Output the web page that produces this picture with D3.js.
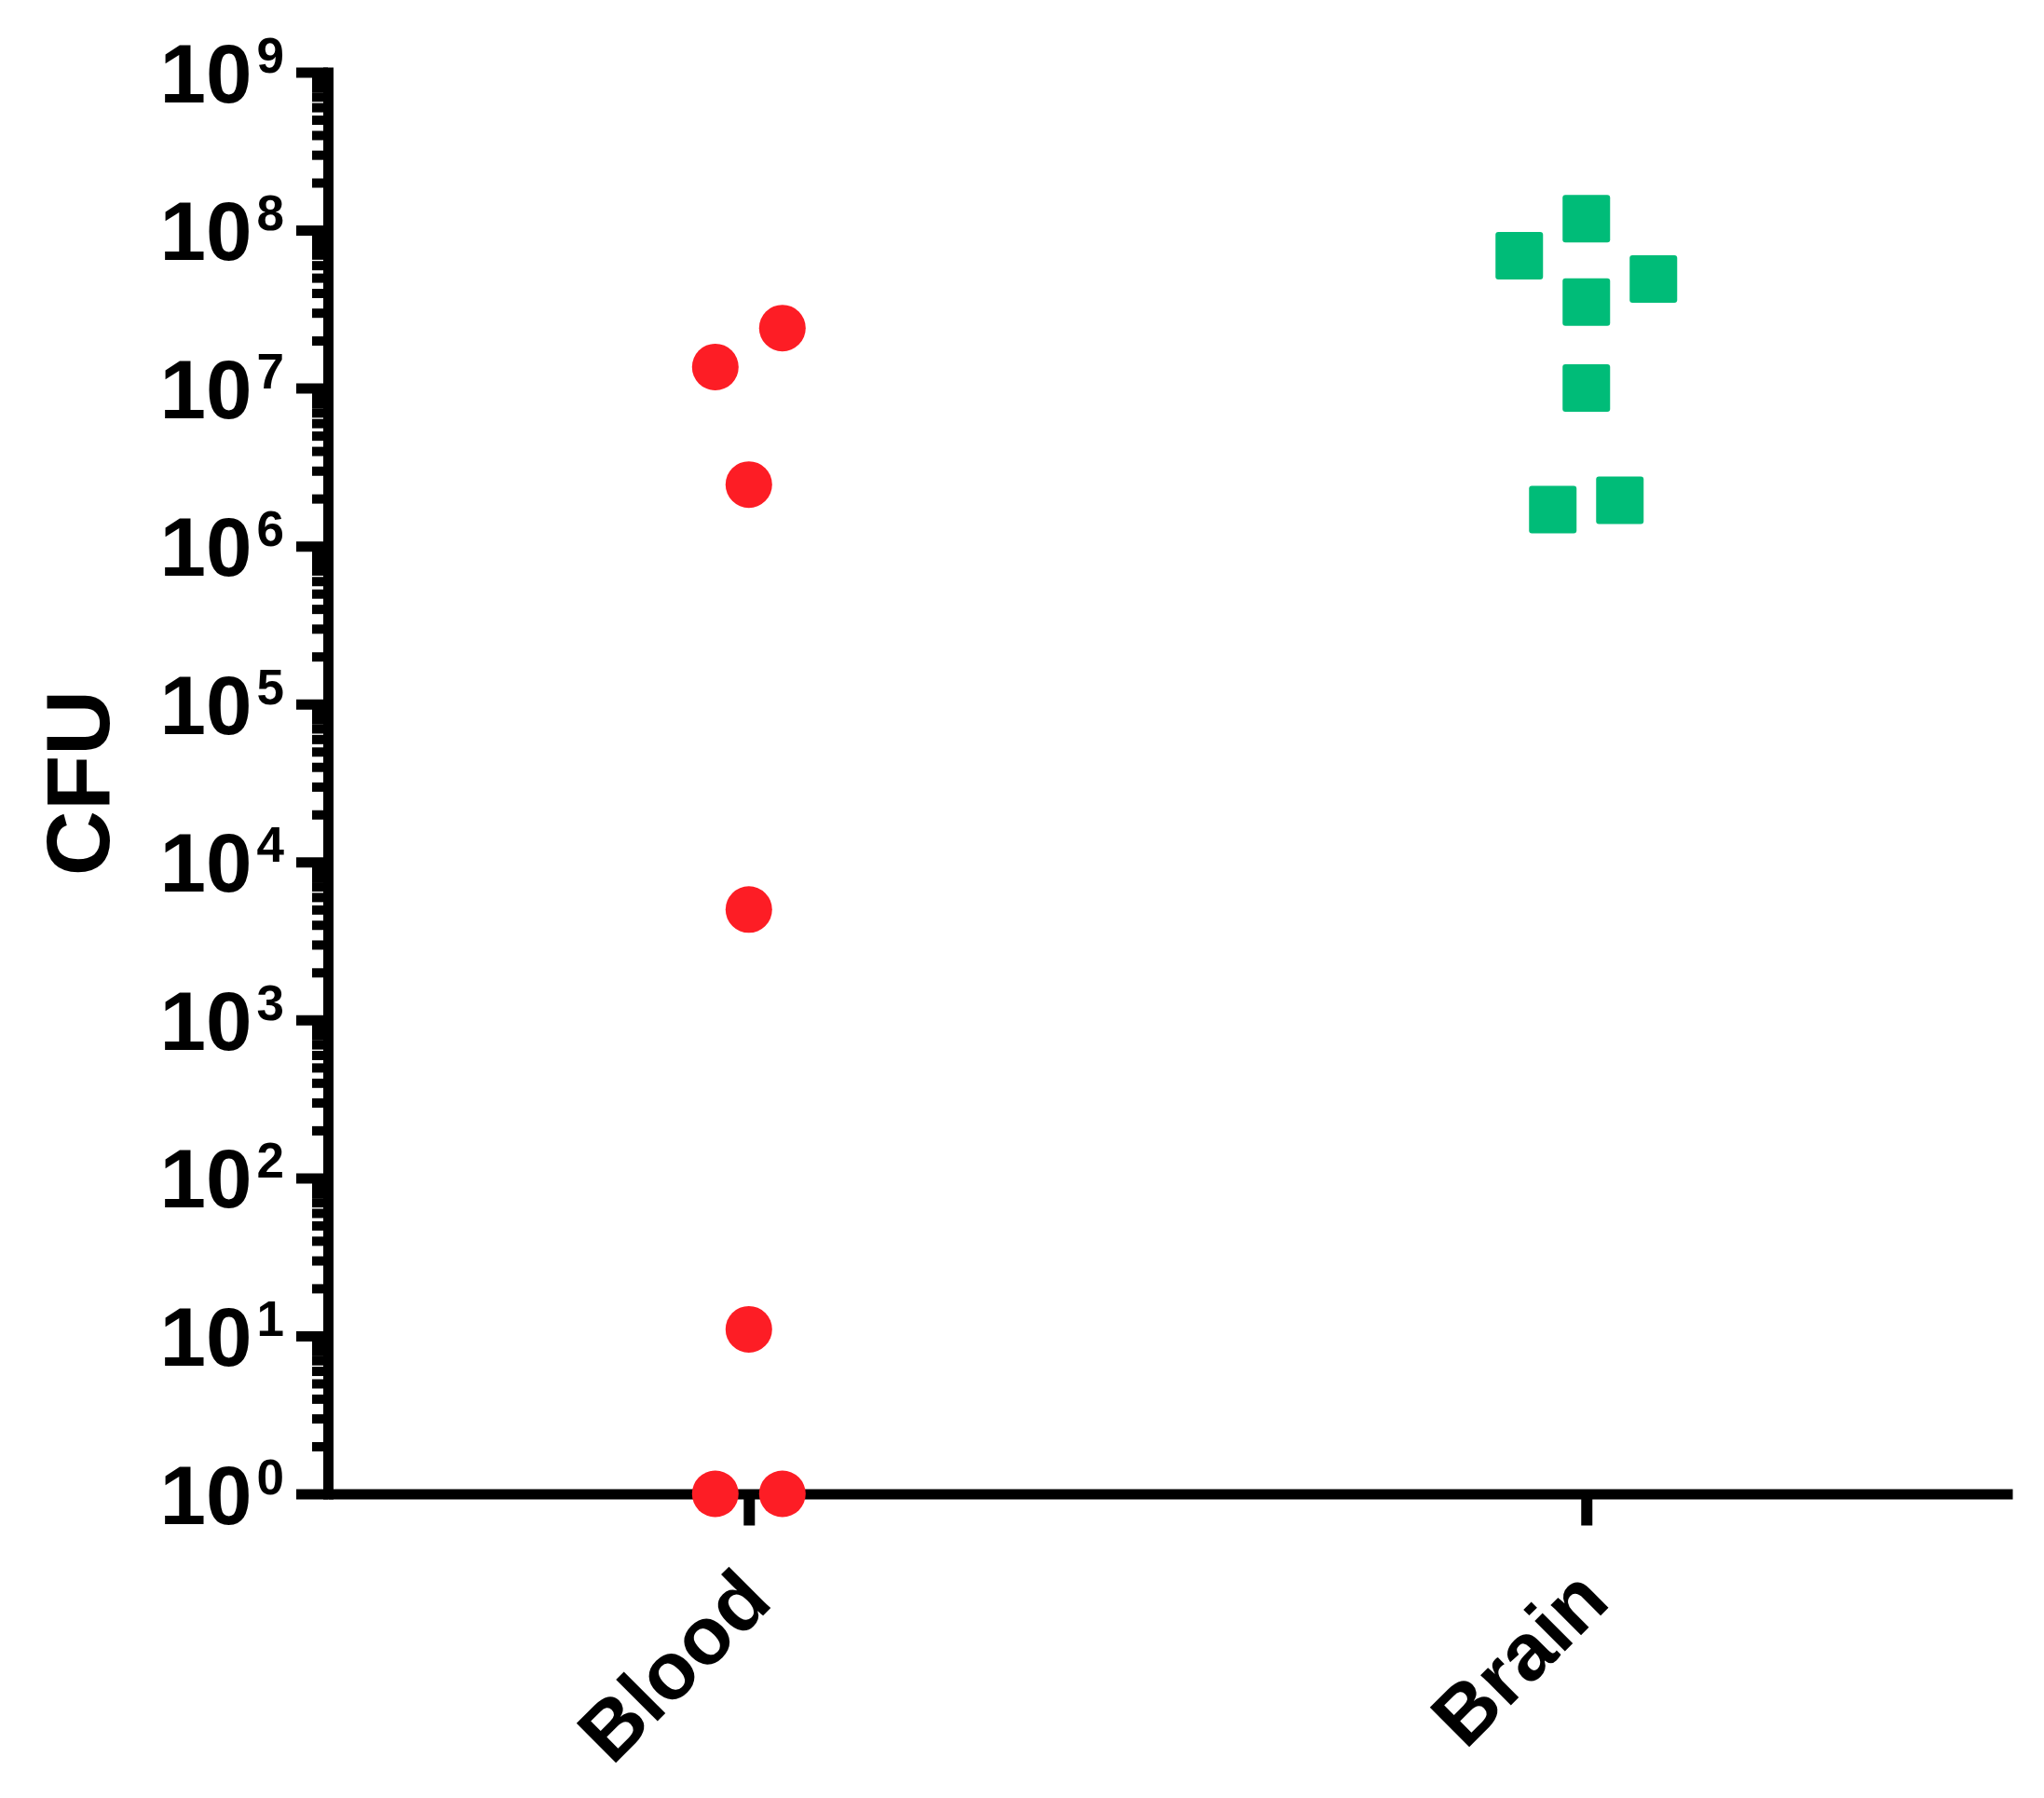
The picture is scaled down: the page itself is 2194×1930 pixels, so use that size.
<!DOCTYPE html>
<html>
<head>
<meta charset="utf-8">
<script src="https://cdn.jsdelivr.net/npm/d3@7"></script>
<style>
  body { margin: 0; background: #ffffff; }
  svg { display: block; }
  text { font-family: Arial, "Liberation Sans", sans-serif; font-weight: bold; fill: #000000; }
</style>
</head>
<body>
<div id="chart"></div>
<script>
// Data
var categories = ['Blood', 'Brain'];
var bloodValues = [2.4e7, 1.36e7, 2.45e6, 5e3, 11, 1, 1];
var bloodJitter = [1, -1, 0, 0, 0, -1, 1]; // column slot of each point
var brainValues = [1.18e8, 6.9e7, 4.9e7, 3.5e7, 1e7, 1.7e6, 1.95e6];
var brainJitter = [0, -2, 2, 0, 0, -1, 1];
var yExponents = [0, 1, 2, 3, 4, 5, 6, 7, 8, 9];
var yLabel = 'CFU';

var width = 2194, height = 1930;

var svg = d3.select('#chart').append('svg')
    .attr('width', width)
    .attr('height', height);

// Settings
var axis_x = 352,      // y axis line position
    axis_y = 1603.5,   // x axis line position
    top_y = 77.5,      // 10^9
    right_x = 2160,    // end of x axis
    line_w = 11,       // axis line thickness
    slot = 36;         // horizontal spacing between scattered symbols

var y = d3.scaleLog()
    .domain([1, 1e9])
    .range([axis_y, top_y]);

var x = d3.scalePoint()
    .domain(categories)
    .range([axis_x, right_x])
    .padding(0.5056)
    .align(0.497);

// Minor ticks 2..9 inside each decade
var minorTicks = [];
yExponents.slice(0, -1).forEach(function(e) {
    for (var m = 2; m <= 9; m++) minorTicks.push(m * Math.pow(10, e));
});

var minorAxis = svg.append('g')
    .attr('transform', 'translate(' + axis_x + ',0)')
    .call(d3.axisLeft(y).tickValues(minorTicks).tickSize(17).tickSizeOuter(0).tickFormat(''));
minorAxis.select('.domain').remove();
minorAxis.selectAll('.tick line')
    .attr('stroke', '#000').attr('stroke-width', 10);

var majorAxis = svg.append('g')
    .attr('transform', 'translate(' + axis_x + ',0)')
    .call(d3.axisLeft(y)
        .tickValues(yExponents.map(function(e) { return Math.pow(10, e); }))
        .tickSize(34).tickSizeOuter(0).tickFormat(''));
majorAxis.select('.domain')
    .attr('stroke', '#000').attr('stroke-width', line_w)
    .attr('stroke-linecap', 'square');
majorAxis.selectAll('.tick line')
    .attr('stroke', '#000').attr('stroke-width', line_w);

// Tick labels as 10 with a superscript exponent
var labels = majorAxis.selectAll('.tick')
    .append('text')
    .attr('x', -47)
    .attr('y', 31.5)
    .attr('text-anchor', 'end')
    .style('font-size', '89px');
labels.append('tspan').text('10');
labels.append('tspan')
    .attr('dx', 5)
    .attr('dy', -32)
    .style('font-size', '53px')
    .text(function(d) { return Math.round(Math.log10(d)); });

// X axis
var xAxis = svg.append('g')
    .attr('transform', 'translate(0,' + axis_y + ')')
    .call(d3.axisBottom(x).tickSize(34).tickSizeOuter(0).tickFormat(''));
xAxis.select('.domain')
    .attr('stroke', '#000').attr('stroke-width', line_w);
xAxis.selectAll('.tick line')
    .attr('stroke', '#000').attr('stroke-width', 12);
xAxis.selectAll('.tick')
    .append('text')
    .attr('transform', 'translate(27,' + (1722 - axis_y) + ') rotate(-45)')
    .attr('text-anchor', 'end')
    .style('font-size', '87px')
    .text(function(d) { return d; });

// Y axis title
svg.append('text')
    .attr('transform', 'translate(117,' + ((axis_y + top_y) / 2) + ') rotate(-90)')
    .attr('text-anchor', 'middle')
    .style('font-size', '97px')
    .text(yLabel);

// Blood: red circles
svg.append('g').selectAll('circle')
    .data(bloodValues)
    .enter().append('circle')
    .attr('cx', function(d, i) { return x('Blood') + bloodJitter[i] * slot; })
    .attr('cy', function(d) { return y(d); })
    .attr('r', 25)
    .attr('fill', '#fd1d25');

// Brain: green squares
var side = 51;
svg.append('g').selectAll('rect')
    .data(brainValues)
    .enter().append('rect')
    .attr('x', function(d, i) { return x('Brain') + brainJitter[i] * slot - side / 2; })
    .attr('y', function(d) { return y(d) - side / 2; })
    .attr('width', side).attr('height', side)
    .attr('rx', 3).attr('ry', 3)
    .attr('fill', '#00bc78');
</script>
</body>
</html>
